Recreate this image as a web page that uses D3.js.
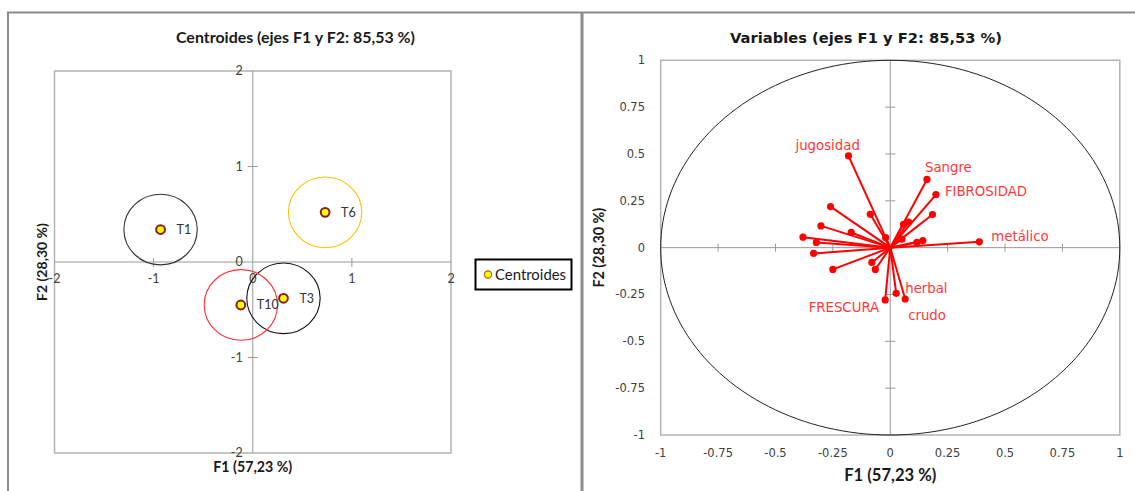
<!DOCTYPE html>
<html><head><meta charset="utf-8">
<script src="https://cdn.jsdelivr.net/npm/d3@7"></script>
<style>body{margin:0;background:#fff}svg{display:block}</style>
</head><body>
<svg id="c" width="1135" height="491"></svg>
<script>
// ---------- DATA ----------
const centroidLabels = ["T1", "T3", "T6", "T10"];
const centroidF1 = [-0.93, 0.31, 0.73, -0.12];
const centroidF2 = [0.34, -0.38, 0.52, -0.45];
const centroidRadius = [0.37, 0.37, 0.37, 0.37];
const leftTicks = [-2, -1, 0, 1, 2];

const varLabels = ["jugosidad","Sangre","FIBROSIDAD","","metálico","","","","","","","","","","","","","","","","","FRESCURA","herbal","crudo"];
const varF1 = [-0.182, 0.160, 0.199, 0.184, 0.388, 0.142, 0.116, 0.051, 0.058, 0.080, -0.020, -0.087, -0.260, -0.302, -0.170, -0.380, -0.322, -0.334, -0.250, -0.080, -0.065, -0.022, 0.026, 0.065];
const varF2 = [0.490, 0.364, 0.283, 0.177, 0.031, 0.038, 0.028, 0.045, 0.125, 0.137, 0.054, 0.178, 0.219, 0.116, 0.081, 0.056, 0.028, -0.031, -0.116, -0.079, -0.116, -0.279, -0.244, -0.274];
const rightTicks = [-1, -0.75, -0.5, -0.25, 0, 0.25, 0.5, 0.75, 1];

// ---------- STYLES ----------
const circleColors = {T1:"#333333", T3:"#111111", T6:"#ffc000", T10:"#ff3030"};
const labelOffsets = {
  "jugosidad":[-53,-6,"start"], "Sangre":[-2,-7,"start"], "FIBROSIDAD":[9,1.5,"start"],
  "metálico":[12,-0.5,"start"], "herbal":[9,-0.5,"start"], "FRESCURA":[-6,12,"end"], "crudo":[3,21,"start"]
};
const svg = d3.select("#c");
const fmt = d => String(d);

function fit(sel, w){
  const n = sel.node(); let fs = parseFloat(sel.attr("font-size"));
  for(let i=0;i<3;i++){ const L = n.getComputedTextLength(); if(L>0){ fs = fs*w/L; sel.attr("font-size", fs);} }
}

// panel frames
svg.append("path").attr("d","M8,500 V12.5 H1140").attr("fill","none").attr("stroke","#8c8c8c").attr("stroke-width",2);
svg.append("line").attr("x1",582).attr("x2",582).attr("y1",12).attr("y2",500).attr("stroke","#8c8c8c").attr("stroke-width",3);

// ---------- LEFT: Centroides ----------
const xL = d3.scaleLinear().domain([-2,2]).range([54.5,451]);
const yL = d3.scaleLinear().domain([-2,2]).range([453,71]);
const gL = svg.append("g");
gL.append("rect").attr("x",xL(-2)).attr("y",yL(2)).attr("width",xL(2)-xL(-2)).attr("height",yL(-2)-yL(2))
  .attr("fill","none").attr("stroke","#b3b3b3").attr("stroke-width",1.5);
gL.append("line").attr("x1",xL(-2)).attr("x2",xL(2)).attr("y1",yL(0)).attr("y2",yL(0)).attr("stroke","#999").attr("stroke-width",1);
gL.append("line").attr("x1",xL(0)).attr("x2",xL(0)).attr("y1",yL(-2)).attr("y2",yL(2)).attr("stroke","#999").attr("stroke-width",1);
gL.selectAll(".tx").data(leftTicks.filter(d=>Math.abs(d)===1)).join("line")
  .attr("x1",d=>xL(d)).attr("x2",d=>xL(d)).attr("y1",yL(0)-4).attr("y2",yL(0)+5).attr("stroke","#999");
gL.selectAll(".ty").data(leftTicks.filter(d=>Math.abs(d)===1)).join("line")
  .attr("x1",xL(0)-5).attr("x2",xL(0)+5).attr("y1",d=>yL(d)).attr("y2",d=>yL(d)).attr("stroke","#999");
gL.selectAll(".xl").data(leftTicks).join("text").attr("x",d=>xL(d)).attr("y",yL(0)+21)
  .attr("text-anchor","middle").attr("font-family","Lato").attr("font-size",12.5).attr("fill","#404040").text(fmt);
gL.selectAll(".yl").data(leftTicks).join("text").attr("x",xL(0)-10).attr("y",d=>yL(d)+4)
  .attr("text-anchor","end").attr("font-family","Lato").attr("font-size",12.5).attr("fill","#404040").text(fmt);
const cents = centroidLabels.map((l,i)=>({l, x:centroidF1[i], y:centroidF2[i], r:centroidRadius[i]}));
gL.selectAll(".ell").data(cents).join("ellipse")
  .attr("cx",d=>xL(d.x)).attr("cy",d=>yL(d.y))
  .attr("rx",d=>xL(d.r)-xL(0)).attr("ry",d=>yL(0)-yL(d.r))
  .attr("fill","none").attr("stroke",d=>circleColors[d.l]).attr("stroke-width",1.1);
gL.selectAll(".pt").data(cents).join("circle")
  .attr("cx",d=>xL(d.x)).attr("cy",d=>yL(d.y)).attr("r",4.4)
  .attr("fill","#ffff00").attr("stroke","#8b1a1a").attr("stroke-width",2);
gL.selectAll(".pl").data(cents).join("text")
  .attr("x",d=>xL(d.x)+16).attr("y",d=>yL(d.y)+4.5)
  .attr("font-family","Lato").attr("font-size",12.5).attr("fill","#333").text(d=>d.l);
fit(svg.append("text").attr("x",295.5).attr("y",43).attr("text-anchor","middle").attr("font-family","Lato")
  .attr("font-weight","bold").attr("font-size",15).attr("fill","#1a1a1a").text("Centroides (ejes F1 y F2: 85,53 %)"),239);
fit(svg.append("text").attr("x",xL(0)).attr("y",472).attr("text-anchor","middle").attr("font-family","Lato")
  .attr("font-weight","bold").attr("font-size",14).attr("fill","#1a1a1a").text("F1 (57,23 %)"),79);
fit(svg.append("text").attr("transform",`translate(47,${yL(0)}) rotate(-90)`).attr("text-anchor","middle").attr("font-family","Lato")
  .attr("font-weight","bold").attr("font-size",14).attr("fill","#1a1a1a").text("F2 (28,30 %)"),78);
svg.append("rect").attr("x",475.5).attr("y",259.5).attr("width",96).attr("height",30).attr("fill","#fff").attr("stroke","#000").attr("stroke-width",2);
svg.append("circle").attr("cx",488).attr("cy",274.5).attr("r",3.6).attr("fill","#ffff00").attr("stroke","#c06000").attr("stroke-width",1.2);
fit(svg.append("text").attr("x",495).attr("y",280).attr("font-family","Lato").attr("font-size",15).attr("fill","#1a1a1a").text("Centroides"),71);

// ---------- RIGHT: Variables ----------
const xR = d3.scaleLinear().domain([-1,1]).range([660.7,1119.8]);
const yR = d3.scaleLinear().domain([-1,1]).range([435,60.3]);
const gR = svg.append("g");
gR.append("rect").attr("x",xR(-1)).attr("y",yR(1)).attr("width",xR(1)-xR(-1)).attr("height",yR(-1)-yR(1))
  .attr("fill","none").attr("stroke","#b3b3b3").attr("stroke-width",1.5);
gR.append("line").attr("x1",xR(-1)).attr("x2",xR(1)).attr("y1",yR(0)).attr("y2",yR(0)).attr("stroke","#999");
gR.append("line").attr("x1",xR(0)).attr("x2",xR(0)).attr("y1",yR(-1)).attr("y2",yR(1)).attr("stroke","#999");
gR.selectAll(".tx").data(rightTicks.filter(d=>d!==0&&Math.abs(d)!==1)).join("line")
  .attr("x1",d=>xR(d)).attr("x2",d=>xR(d)).attr("y1",yR(0)-4).attr("y2",yR(0)+4).attr("stroke","#999");
gR.selectAll(".ty").data(rightTicks.filter(d=>d!==0&&Math.abs(d)!==1)).join("line")
  .attr("x1",xR(0)-5).attr("x2",xR(0)+5).attr("y1",d=>yR(d)).attr("y2",d=>yR(d)).attr("stroke","#999");
gR.selectAll(".xl").data(rightTicks).join("text").attr("x",d=>xR(d)).attr("y",yR(-1)+22)
  .attr("text-anchor","middle").attr("font-family","DejaVu Sans").attr("font-size",11.5).attr("fill","#404040").text(fmt);
gR.selectAll(".yl").data(rightTicks).join("text").attr("x",645).attr("y",d=>yR(d)+4)
  .attr("text-anchor","end").attr("font-family","DejaVu Sans").attr("font-size",11.5).attr("fill","#404040").text(fmt);
const circ = d3.range(0,361,2).map(a=>[Math.cos(a*Math.PI/180), Math.sin(a*Math.PI/180)]);
gR.append("path").attr("d", d3.line().x(d=>xR(d[0])).y(d=>yR(d[1]))(circ))
  .attr("fill","none").attr("stroke","#222").attr("stroke-width",1);
const vars = varLabels.map((l,i)=>({l, x:varF1[i], y:varF2[i]}));
gR.selectAll(".vl").data(vars).join("line")
  .attr("x1",xR(0)).attr("y1",yR(0)).attr("x2",d=>xR(d.x)).attr("y2",d=>yR(d.y))
  .attr("stroke","#ff0000").attr("stroke-width",2);
gR.selectAll(".vp").data(vars).join("circle")
  .attr("cx",d=>xR(d.x)).attr("cy",d=>yR(d.y)).attr("r",3.6).attr("fill","#ff0000");
gR.selectAll(".vt").data(vars.filter(d=>d.l)).join("text")
  .attr("x",d=>xR(d.x)+labelOffsets[d.l][0]).attr("y",d=>yR(d.y)+labelOffsets[d.l][1])
  .attr("text-anchor",d=>labelOffsets[d.l][2])
  .attr("font-family","DejaVu Sans").attr("font-size",13.3).attr("fill","#ff3838").text(d=>d.l);
fit(svg.append("text").attr("x",866).attr("y",43).attr("text-anchor","middle").attr("font-family","DejaVu Sans")
  .attr("font-weight","bold").attr("font-size",14).attr("fill","#1a1a1a").text("Variables (ejes F1 y F2: 85,53 %)"),272);
fit(svg.append("text").attr("x",xR(0)).attr("y",481).attr("text-anchor","middle").attr("font-family","Lato")
  .attr("font-weight","bold").attr("font-size",15).attr("fill","#1a1a1a").text("F1 (57,23 %)"),92);
fit(svg.append("text").attr("transform",`translate(604,${yR(0)}) rotate(-90)`).attr("text-anchor","middle").attr("font-family","Lato")
  .attr("font-weight","bold").attr("font-size",14).attr("fill","#1a1a1a").text("F2 (28,30 %)"),80);
</script>
</body></html>
